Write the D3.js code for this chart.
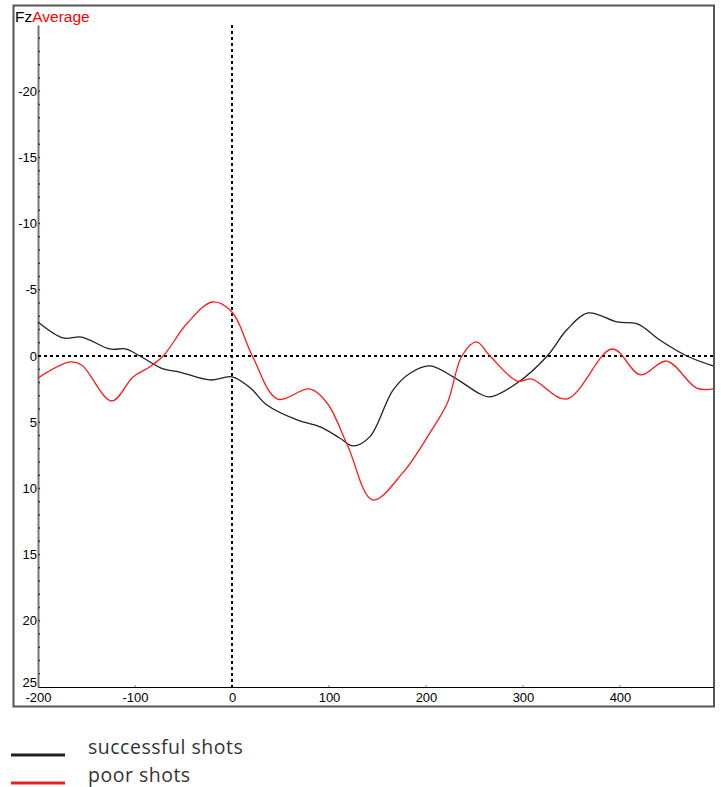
<!DOCTYPE html>
<html>
<head>
<meta charset="utf-8">
<script src="https://cdn.jsdelivr.net/npm/d3@7"></script>
<style>
  body { margin: 0; background: #fff; }
  svg { display: block; }
</style>
</head>
<body>
<svg id="chart" width="721" height="787"></svg>
<script>
// ---- data ----
const xTicks = [-200, -100, 0, 100, 200, 300, 400];
const yTicks = [-20, -15, -10, -5, 0, 5, 10, 15, 20, 25];
const seriesNames = ["successful shots", "poor shots"];
const seriesColors = ["#222222", "#ff1a1a"];

const successfulTime = [-200, -174, -155, -126, -110, -95, -71, -54, -23, 0, 19, 36, 67, 91, 111, 125, 142, 166, 184, 204, 228, 256, 266, 294, 325, 345, 367, 397, 418, 441, 469, 496];
const successfulValue = [-2.57, -1.36, -1.43, -0.53, -0.53, 0, 0.98, 1.21, 1.81, 1.58, 2.42, 3.70, 4.83, 5.36, 6.19, 6.79, 6.11, 2.57, 1.28, 0.75, 1.58, 2.87, 3.09, 2.04, 0, -1.96, -3.25, -2.57, -2.42, -1.21, 0, 0.75];

const poorTime = [-200, -167, -155, -124, -102, -85, -71, -46, -20, 0, 21, 47, 80, 98, 119, 145, 176, 204, 222, 237, 252, 266, 294, 309, 345, 392, 421, 448, 479, 496];
const poorValue = [1.66, 0.45, 0.68, 3.40, 1.58, 0.83, 0, -2.49, -4.08, -3.32, 0, 3.25, 2.49, 3.55, 6.72, 10.87, 8.83, 5.81, 3.55, 0, -1.06, 0, 1.89, 1.74, 3.25, -0.53, 1.43, 0.38, 2.42, 2.49];

// ---- layout ----
const svg = d3.select("#chart");
const mLeft = 38, mRight = 713.1, mTop = 25, mBottom = 687;
const axisFont = "'Liberation Sans', Arial, sans-serif";

const x = d3.scaleLinear().domain([-200, 496]).range([mLeft, mRight]);
const y = d3.scaleLinear().domain([-25, 25]).range([mTop, mBottom]);

// frame
svg.append("rect")
  .attr("x", 13.5).attr("y", 5.5)
  .attr("width", 700.5).attr("height", 701)
  .attr("fill", "none").attr("stroke", "#555").attr("stroke-width", 2);

// title
const title = svg.append("text")
  .attr("x", 15).attr("y", 22)
  .attr("font-family", axisFont)
  .attr("font-size", 15.5);
title.append("tspan").attr("fill", "#000").text("Fz");
title.append("tspan").attr("fill", "#ff0000").text("Average");

// y axis
const yAxis = d3.axisLeft(y).tickValues(yTicks).tickSize(0).tickPadding(1)
  .tickFormat(d => String(d));
const gy = svg.append("g").attr("transform", `translate(${mLeft},0)`).call(yAxis);
gy.select(".domain").attr("stroke", "#777").attr("stroke-width", 2);
gy.selectAll("text")
  .attr("font-family", axisFont)
  .attr("font-size", 13).attr("fill", "#000");
gy.selectAll(".tick").filter(d => d === 25).select("text").attr("dy", "-0.05em");

// y minor ticks
svg.append("g").selectAll("line")
  .data(d3.range(-24, 25, 1))
  .join("line")
  .attr("x1", mLeft + 0.5).attr("x2", mLeft + 2)
  .attr("y1", d => y(d)).attr("y2", d => y(d))
  .attr("stroke", "#333").attr("stroke-width", 1.5);

// x axis
const xAxis = d3.axisBottom(x).tickValues(xTicks).tickSize(0).tickPadding(6)
  .tickFormat(d => String(d));
const gx = svg.append("g").attr("transform", `translate(0,${mBottom})`).call(xAxis);
gx.select(".domain").attr("stroke", "#000").attr("stroke-width", 1.2);
gx.selectAll("text")
  .attr("font-family", axisFont)
  .attr("font-size", 13).attr("fill", "#000");

// x minor ticks
svg.append("g").selectAll("line")
  .data(xTicks.slice(1))
  .join("line")
  .attr("x1", d => x(d)).attr("x2", d => x(d))
  .attr("y1", mBottom - 2).attr("y2", mBottom)
  .attr("stroke", "#888").attr("stroke-width", 1);

// dashed zero lines
svg.append("line")
  .attr("x1", x(0)).attr("x2", x(0))
  .attr("y1", mTop).attr("y2", mBottom)
  .attr("stroke", "#000").attr("stroke-width", 2).attr("stroke-dasharray", "3,3");
svg.append("line")
  .attr("x1", mLeft).attr("x2", mRight)
  .attr("y1", y(0)).attr("y2", y(0))
  .attr("stroke", "#000").attr("stroke-width", 2).attr("stroke-dasharray", "3,3");

// curves
const line = d3.line()
  .x(d => x(d[0])).y(d => y(d[1]))
  .curve(d3.curveCatmullRom.alpha(0.5));

const series = [
  d3.zip(successfulTime, successfulValue),
  d3.zip(poorTime, poorValue)
];
svg.append("g").selectAll("path")
  .data(series)
  .join("path")
  .attr("d", d => line(d))
  .attr("fill", "none")
  .attr("stroke", (d, i) => seriesColors[i])
  .attr("stroke-width", 1.3);

// legend
const legend = svg.append("g").selectAll("g")
  .data(seriesNames)
  .join("g")
  .attr("transform", (d, i) => `translate(0,${755 + i * 28})`);
legend.append("line")
  .attr("x1", 11).attr("x2", 65)
  .attr("y1", 0).attr("y2", 0)
  .attr("stroke", (d, i) => i === 0 ? "#222" : "#ee1c25")
  .attr("stroke-width", 3);
legend.append("text")
  .attr("x", 88).attr("y", -1)
  .attr("font-family", "'Open Sans', 'Noto Sans', sans-serif")
  .attr("font-size", 19.5)
  .attr("letter-spacing", 0.5)
  .attr("fill", "#333")
  .text(d => d);
</script>
</body>
</html>
